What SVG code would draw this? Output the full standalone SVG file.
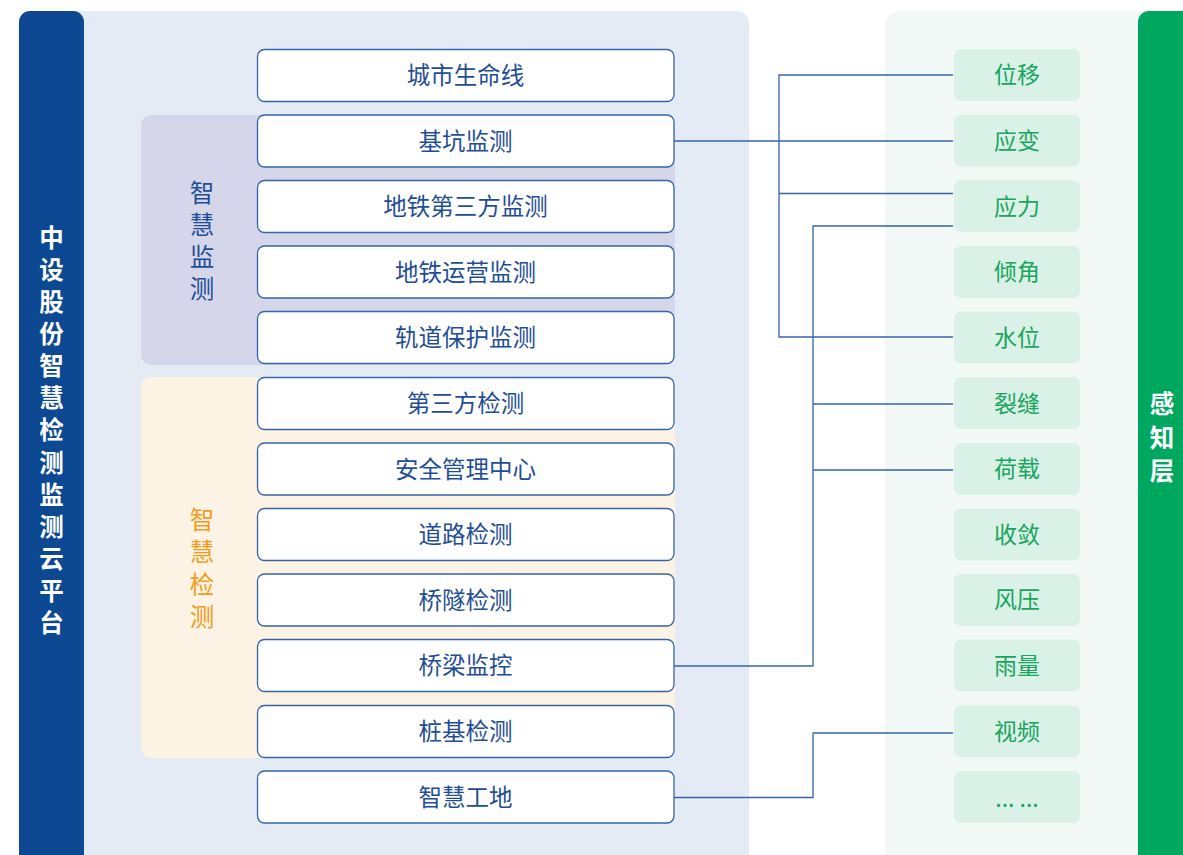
<svg xmlns="http://www.w3.org/2000/svg" width="1183" height="855" viewBox="0 0 1183 855">
<style>
  text { font-family: "Noto Sans CJK SC", "Noto Sans", sans-serif; dominant-baseline: central; text-anchor: middle; }
  .node rect { fill: #ffffff; stroke: #3565a9; stroke-width: 1.3; }
  .node text { font-size: 23.5px; fill: #1f4e96; }
  .sensor rect { fill: #d9f1e6; }
  .sensor text { font-size: 23px; fill: #1aa560; }
  .conn path { fill: none; stroke: #3565a9; stroke-width: 1.3; }
  .vt { font-size: 24.5px; }
</style>
<rect width="1183" height="855" fill="#ffffff"/>
<g id="platform-panel">
  <rect x="19" y="11" width="730" height="870" rx="12" fill="#e4ebf4"/>
</g>
<g id="perception-panel">
  <rect x="885" y="11" width="280" height="870" rx="14" fill="#f2f8f6"/>
</g>
<g id="platform-title">
  <rect x="19" y="11" width="65" height="870" rx="11" fill="#0d4893"/>
  <text class="vt" font-weight="bold" fill="#ffffff" font-size="25px">
    <tspan x="51.5" y="235.5">中</tspan><tspan x="51.5" y="267.5">设</tspan><tspan x="51.5" y="299.5">股</tspan><tspan x="51.5" y="331.5">份</tspan><tspan x="51.5" y="363.5">智</tspan><tspan x="51.5" y="395.5">慧</tspan><tspan x="51.5" y="428">检</tspan><tspan x="51.5" y="460.5">测</tspan><tspan x="51.5" y="492.5">监</tspan><tspan x="51.5" y="524.5">测</tspan><tspan x="51.5" y="556.5">云</tspan><tspan x="51.5" y="588.5">平</tspan><tspan x="51.5" y="620.5">台</tspan>
  </text>
</g>
<g id="perception-title">
  <rect x="1138" y="11" width="70" height="870" rx="11" fill="#00a85f"/>
  <text class="vt" font-weight="bold" fill="#ffffff" font-size="25px">
    <tspan x="1162" y="401.5">感</tspan><tspan x="1162" y="435.5">知</tspan><tspan x="1162" y="468.5">层</tspan>
  </text>
</g>
<g id="group-monitoring">
  <rect x="141" y="115" width="534" height="250" rx="10" fill="#d5d6e9"/>
  <text class="vt" fill="#1f4e96">
    <tspan x="202" y="190.5">智</tspan><tspan x="202" y="222.5">慧</tspan><tspan x="202" y="254.5">监</tspan><tspan x="202" y="286.5">测</tspan>
  </text>
</g>
<g id="group-inspection">
  <rect x="141" y="377" width="534" height="381" rx="10" fill="#fdf3e5"/>
  <text class="vt" fill="#f39b1a">
    <tspan x="202" y="517.5">智</tspan><tspan x="202" y="549.5">慧</tspan><tspan x="202" y="582.5">检</tspan><tspan x="202" y="614.5">测</tspan>
  </text>
</g>
<g id="connectors" class="conn">
  <path d="M674 141 H779"/>
  <path d="M953 75 H779 V337 H953"/>
  <path d="M779 141 H953"/>
  <path d="M779 193.5 H953"/>
  <path d="M953 226 H813 V666 H674"/>
  <path d="M813 404 H953"/>
  <path d="M813 470 H953"/>
  <path d="M674 797.5 H813 V733 H953"/>
</g>
<g id="node-1" class="node"><rect x="257.5" y="49.5" width="416.5" height="52" rx="7"/><text x="465.5" y="74">城市生命线</text></g>
<g id="node-2" class="node"><rect x="257.5" y="115" width="416.5" height="52" rx="7"/><text x="465.5" y="139.5">基坑监测</text></g>
<g id="node-3" class="node"><rect x="257.5" y="180.5" width="416.5" height="52" rx="7"/><text x="465.5" y="205">地铁第三方监测</text></g>
<g id="node-4" class="node"><rect x="257.5" y="246" width="416.5" height="52" rx="7"/><text x="465.5" y="270.5">地铁运营监测</text></g>
<g id="node-5" class="node"><rect x="257.5" y="311.5" width="416.5" height="52" rx="7"/><text x="465.5" y="336">轨道保护监测</text></g>
<g id="node-6" class="node"><rect x="257.5" y="377.5" width="416.5" height="52" rx="7"/><text x="465.5" y="402">第三方检测</text></g>
<g id="node-7" class="node"><rect x="257.5" y="443" width="416.5" height="52" rx="7"/><text x="465.5" y="467.5">安全管理中心</text></g>
<g id="node-8" class="node"><rect x="257.5" y="508.5" width="416.5" height="52" rx="7"/><text x="465.5" y="533">道路检测</text></g>
<g id="node-9" class="node"><rect x="257.5" y="574" width="416.5" height="52" rx="7"/><text x="465.5" y="598.5">桥隧检测</text></g>
<g id="node-10" class="node"><rect x="257.5" y="639.5" width="416.5" height="52" rx="7"/><text x="465.5" y="664">桥梁监控</text></g>
<g id="node-11" class="node"><rect x="257.5" y="705.5" width="416.5" height="52" rx="7"/><text x="465.5" y="730">桩基检测</text></g>
<g id="node-12" class="node"><rect x="257.5" y="771" width="416.5" height="52" rx="7"/><text x="465.5" y="795.5">智慧工地</text></g>
<g id="sensor-1" class="sensor"><rect x="954" y="49" width="126" height="52" rx="7"/><text x="1017" y="73">位移</text></g>
<g id="sensor-2" class="sensor"><rect x="954" y="114.5" width="126" height="52" rx="7"/><text x="1017" y="138.5">应变</text></g>
<g id="sensor-3" class="sensor"><rect x="954" y="180" width="126" height="52" rx="7"/><text x="1017" y="204.5">应力</text></g>
<g id="sensor-4" class="sensor"><rect x="954" y="246" width="126" height="52" rx="7"/><text x="1017" y="270">倾角</text></g>
<g id="sensor-5" class="sensor"><rect x="954" y="311.5" width="126" height="52" rx="7"/><text x="1017" y="335.5">水位</text></g>
<g id="sensor-6" class="sensor"><rect x="954" y="377" width="126" height="52" rx="7"/><text x="1017" y="401.5">裂缝</text></g>
<g id="sensor-7" class="sensor"><rect x="954" y="443" width="126" height="52" rx="7"/><text x="1017" y="467">荷载</text></g>
<g id="sensor-8" class="sensor"><rect x="954" y="508.5" width="126" height="52" rx="7"/><text x="1017" y="532.5">收敛</text></g>
<g id="sensor-9" class="sensor"><rect x="954" y="574" width="126" height="52" rx="7"/><text x="1017" y="598">风压</text></g>
<g id="sensor-10" class="sensor"><rect x="954" y="639.5" width="126" height="52" rx="7"/><text x="1017" y="664">雨量</text></g>
<g id="sensor-11" class="sensor"><rect x="954" y="705.5" width="126" height="52" rx="7"/><text x="1017" y="730">视频</text></g>
<g id="sensor-12" class="sensor"><rect x="954" y="771" width="126" height="52" rx="7"/><text x="1017" y="797">... ...</text></g>
</svg>
